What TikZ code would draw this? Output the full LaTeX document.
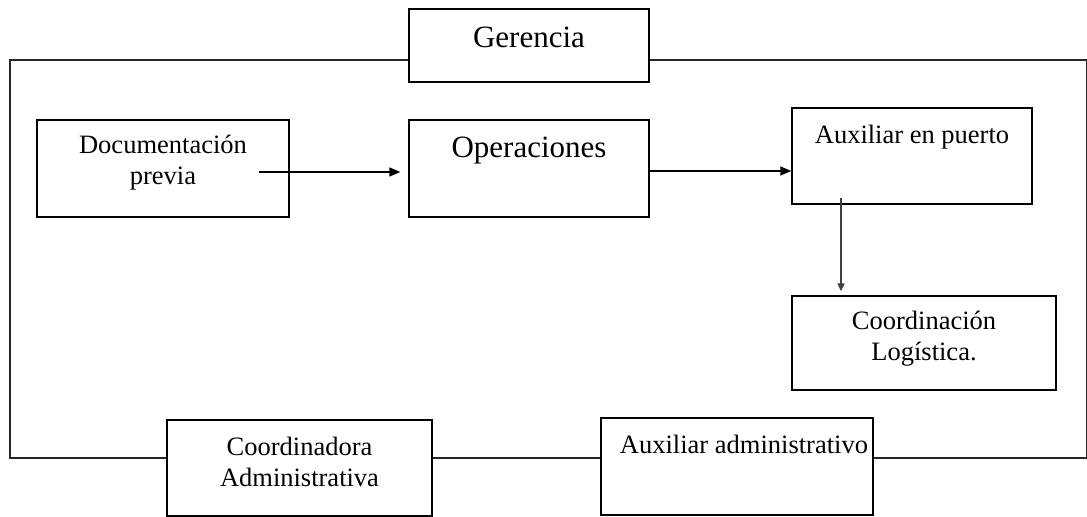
\documentclass[tikz,border=0pt]{standalone}
\usepackage{fontspec}
\setmainfont{Liberation Serif}
\usetikzlibrary{arrows.meta}

\tikzstyle{caja} = [rectangle, draw, line width=0.7pt, fill=white, inner sep=0pt]
\tikzstyle{texto} = [anchor=north, inner sep=0pt, align=center, font=\fontsize{13.25}{15.5}\selectfont]
\tikzstyle{textogrande} = [texto, font=\fontsize{15.5}{18}\selectfont]
\tikzstyle{flecha} = [line width=0.7pt, -{Triangle[length=5.5pt,width=4.5pt]}]
\tikzstyle{flechav} = [line width=1.4pt, black!75, -{Triangle[length=4pt,width=3.5pt]}]

\begin{document}
\begin{tikzpicture}[x=0.5pt,y=-0.5pt]
		\useasboundingbox (0,0) rectangle (1087,517);
		% Marco
		\draw[line width=0.65pt, black!85] (10,60) rectangle (1086.5,458);
		% Cajas
		\node[caja, minimum width=120pt, minimum height=36.5pt] (gerencia) at (529,45.5) {};
		\node[caja, minimum width=126pt, minimum height=48.5pt] (documentacion) at (163,168.5) {};
		\node[caja, minimum width=120pt, minimum height=48.5pt] (operaciones) at (529,168.5) {};
		\node[caja, minimum width=120pt, minimum height=48pt] (auxpuerto) at (912,156) {};
		\node[caja, minimum width=132pt, minimum height=47pt] (logistica) at (924,343) {};
		\node[caja, minimum width=132.5pt, minimum height=48pt] (coordinadora) at (299.5,468) {};
		\node[caja, minimum width=136pt, minimum height=48.5pt] (auxadmin) at (737,466.5) {};
		% Textos de las cajas
		\node[textogrande] (tgerencia) at ([yshift=-9pt]gerencia.north) {Gerencia};
		\node[texto] (tdocumentacion) at ([yshift=-7.75pt]documentacion.north) {Documentación\\previa};
		\node[textogrande] (toperaciones) at ([yshift=-8.5pt]operaciones.north) {Operaciones};
		\node[texto] (tauxpuerto) at ([yshift=-8.5pt]auxpuerto.north) {Auxiliar en puerto};
		\node[texto] (tlogistica) at ([yshift=-7.75pt]logistica.north) {Coordinación\\Logística.};
		\node[texto] (tcoordinadora) at ([yshift=-8.5pt]coordinadora.north) {Coordinadora\\Administrativa};
		\node[texto] (tauxadmin) at ([xshift=3.5pt,yshift=-8.5pt]auxadmin.north) {Auxiliar administrativo};
		% Flechas
		\draw[flecha, shorten >=4pt] ([xshift=-15.5pt,yshift=-1.75pt]documentacion.east) -- ([yshift=-1.75pt]operaciones.west);
		\draw[flecha] ([yshift=-1.25pt]operaciones.east) -- ([yshift=-1.25pt]operaciones.east -| auxpuerto.west);
		\draw[flechav, shorten >=2pt] ([xshift=-35.5pt,yshift=3.5pt]auxpuerto.south) -- ([xshift=-41.5pt]logistica.north);
	\end{tikzpicture}
\end{document}
